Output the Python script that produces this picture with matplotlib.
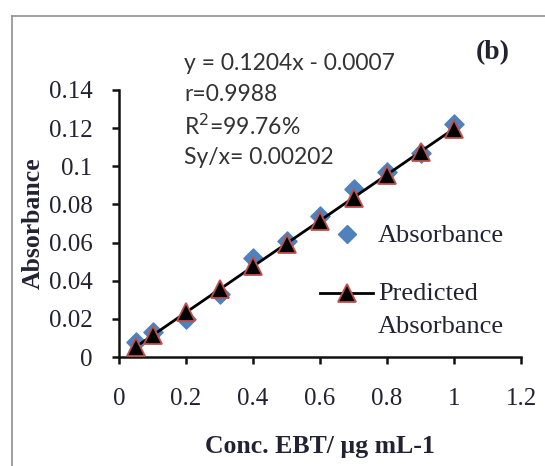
import matplotlib.pyplot as plt
from matplotlib.lines import Line2D
from matplotlib.font_manager import FontProperties

# data
conc = [0.05, 0.1, 0.2, 0.3, 0.4, 0.5, 0.6, 0.7, 0.8, 0.9, 1.0]
absorbance = [0.008, 0.013, 0.020, 0.033, 0.052, 0.061, 0.074, 0.088, 0.097, 0.107, 0.122]
predicted = [0.0053, 0.0113, 0.0234, 0.0354, 0.0475, 0.0595, 0.0715, 0.0836, 0.0956, 0.1077, 0.1197]

x_ticks = [0, 0.2, 0.4, 0.6, 0.8, 1, 1.2]
x_labels = ['0', '0.2', '0.4', '0.6', '0.8', '1', '1.2']
y_ticks = [0, 0.02, 0.04, 0.06, 0.08, 0.1, 0.12, 0.14]
y_labels = ['0', '0.02', '0.04', '0.06', '0.08', '0.1', '0.12', '0.14']

stats_lines = ['y = 0.1204x - 0.0007', 'r=0.9988', r'R$^2$=99.76%', 'Sy/x= 0.00202']

txt = '#222233'
serif = ['Liberation Serif', 'DejaVu Serif']
leg_font = FontProperties(family='Liberation Serif', size=19)

fig = plt.figure(figsize=(5.45, 4.66), dpi=100)
ax = fig.add_axes([119/545, 1 - 357/466, (521 - 119)/545, (357 - 90)/466])

# outer chart frame (only top and left visible)
fig.add_artist(Line2D([12/545, 12/545], [0, 1 - 16/466], transform=fig.transFigure,
                      color='#909090', lw=1.2))
fig.add_artist(Line2D([12/545, 1], [1 - 16/466, 1 - 16/466], transform=fig.transFigure,
                      color='#909090', lw=1.2))

ax.scatter(conc, absorbance, marker='D', s=95, color='#4F81BD', zorder=2)
ax.plot(conc, predicted, color='black', lw=2, marker='^', ms=12.5,
        markerfacecolor='black', markeredgecolor='#C0504D', markeredgewidth=1.3, zorder=3)

ax.set_xlim(0, 1.2)
ax.set_ylim(0, 0.14)
ax.set_xticks(x_ticks)
ax.set_xticklabels(x_labels)
ax.set_yticks(y_ticks)
ax.set_yticklabels(y_labels)
for lab in ax.get_xticklabels() + ax.get_yticklabels():
    lab.set_family(serif)
    lab.set_fontsize(18)
    lab.set_color(txt)

ax.spines['top'].set_visible(False)
ax.spines['right'].set_visible(False)
for s in ['left', 'bottom']:
    ax.spines[s].set_linewidth(1.8)
    ax.spines[s].set_color('#111111')
ax.tick_params(direction='out', length=5, width=1.8, color='#111111')
ax.tick_params(axis='x', pad=17)
ax.tick_params(axis='y', pad=14)

ax.set_xlabel('Conc. EBT/ µg mL-1', family=serif, fontweight='bold',
              fontsize=18.5, color=txt, va='center')
ax.xaxis.set_label_coords(0.5, -(447 - 357)/267)
ax.set_ylabel('Absorbance', family=serif, fontweight='bold',
              fontsize=18.5, color=txt, va='center')
ax.yaxis.set_label_coords(-86/402, 0.5)

# regression statistics
for i, line in enumerate(stats_lines):
    fig.text(184/545, 1 - (63 + i * 31.5)/466, line, family='Lato', fontsize=16.5,
             color='#333333', va='center', ha='left')

fig.text(493/545, 1 - 53/466, '(b)', family=serif, fontweight='bold',
         fontsize=20, color=txt, ha='center', va='center')

# legend drawn by hand to match layout
fig.add_artist(Line2D([347/545], [1 - 234/466], marker='D', ms=9, color='#4F81BD',
                      linestyle='none', transform=fig.transFigure))
fig.text(378/545, 1 - 236/466, 'Absorbance', fontproperties=leg_font,
         color=txt, va='center', ha='left')
fig.add_artist(Line2D([320/545, 373/545], [1 - 293/466, 1 - 293/466], color='black', lw=2,
                      transform=fig.transFigure))
fig.add_artist(Line2D([347/545], [1 - 293/466], marker='^', ms=12.5, markerfacecolor='black',
                      markeredgecolor='#C0504D', markeredgewidth=1.3, linestyle='none',
                      transform=fig.transFigure))
fig.text(378/545, 1 - 294/466, 'Predicted', fontproperties=leg_font,
         color=txt, va='center', ha='left')
fig.text(378/545, 1 - 327/466, 'Absorbance', fontproperties=leg_font,
         color=txt, va='center', ha='left')

fig.savefig('out.png', dpi=100)
